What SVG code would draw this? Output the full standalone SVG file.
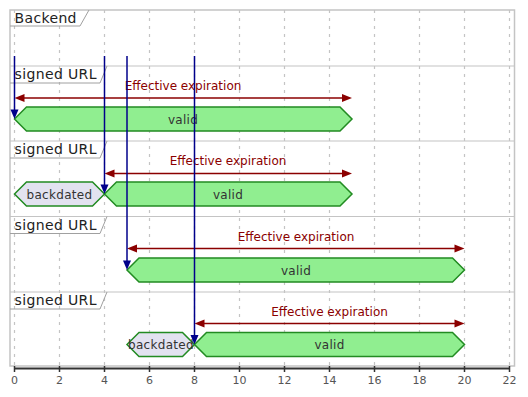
<svg xmlns="http://www.w3.org/2000/svg" width="528" height="397" viewBox="0 0 528 397">
<style>
  text { font-family: "DejaVu Sans", "Liberation Sans", sans-serif; }
  .frame { fill: none; stroke: #C4C4C4; stroke-width: 1.5; }
  .rowline { stroke: #C4C4C4; stroke-width: 1.2; }
  .grid { stroke: #C4C4C4; stroke-width: 1.2; stroke-dasharray: 3 5; }
  .tab { fill: none; stroke: #A0A0A0; stroke-width: 1; }
  .title { font-size: 14px; fill: #222; }
  .valid { fill: #90EE90; stroke: #228B22; stroke-width: 1.5; }
  .back { fill: #E2E2F0; stroke: #228B22; stroke-width: 1.5; }
  .stxt { font-size: 12px; fill: #333; text-anchor: middle; letter-spacing: 0.3px; }
  .cons { stroke: #8B0000; stroke-width: 1.5; }
  .conshead { fill: #8B0000; }
  .ctxt { font-size: 12px; fill: #8B0000; text-anchor: middle; }
  .msg { stroke: #00008B; stroke-width: 1.5; }
  .msghead { fill: #00008B; }
  .axis { stroke: #333; stroke-width: 2; }
  .tick { stroke: #333; stroke-width: 1.5; }
  .tlbl { font-size: 11px; fill: #555; text-anchor: middle; }
</style>

<g id="frame">
  <rect class="frame" x="10" y="10" width="504.5" height="356"/>
  <g class="grid">
    <line x1="14.5" y1="10" x2="14.5" y2="366"/>
    <line x1="59.5" y1="10" x2="59.5" y2="366"/>
    <line x1="104.5" y1="10" x2="104.5" y2="366"/>
    <line x1="149.5" y1="10" x2="149.5" y2="366"/>
    <line x1="194.5" y1="10" x2="194.5" y2="366"/>
    <line x1="239.5" y1="10" x2="239.5" y2="366"/>
    <line x1="284.5" y1="10" x2="284.5" y2="366"/>
    <line x1="329.5" y1="10" x2="329.5" y2="366"/>
    <line x1="374.5" y1="10" x2="374.5" y2="366"/>
    <line x1="419.5" y1="10" x2="419.5" y2="366"/>
    <line x1="464.5" y1="10" x2="464.5" y2="366"/>
    <line x1="509.5" y1="10" x2="509.5" y2="366"/>
  </g>
  <line class="rowline" x1="10" y1="66" x2="514.5" y2="66"/>
  <line class="rowline" x1="10" y1="141" x2="514.5" y2="141"/>
  <line class="rowline" x1="10" y1="216.5" x2="514.5" y2="216.5"/>
  <line class="rowline" x1="10" y1="292" x2="514.5" y2="292"/>
</g>

<g id="backend">
  <path class="tab" d="M10,26 H80 L89,10"/>
  <text class="title" x="14.5" y="23" textLength="62">Backend</text>
</g>

<g id="url1">
  <path class="tab" d="M10,83 H100 L107,66"/>
  <text class="title" x="14.5" y="79" textLength="82">signed URL</text>
  <polygon class="valid" points="14.5,119 26.5,107 340,107 352,119 340,131 26.5,131"/>
  <text class="stxt" x="183" y="123.5">valid</text>
</g>

<g id="url2">
  <path class="tab" d="M10,158 H100 L107,141"/>
  <text class="title" x="14.5" y="154" textLength="82">signed URL</text>
  <polygon class="back" points="14.5,194 26.5,182 92.5,182 104.5,194 92.5,206 26.5,206"/>
  <text class="stxt" x="59.5" y="198.5">backdated</text>
  <polygon class="valid" points="104.5,194 116.5,182 340,182 352,194 340,206 116.5,206"/>
  <text class="stxt" x="228" y="198.5">valid</text>
</g>

<g id="url3">
  <path class="tab" d="M10,233.5 H100 L107,216.5"/>
  <text class="title" x="14.5" y="229.5" textLength="82">signed URL</text>
  <polygon class="valid" points="127,270 139,258 452.5,258 464.5,270 452.5,282 139,282"/>
  <text class="stxt" x="296" y="274.5">valid</text>
</g>

<g id="url4">
  <path class="tab" d="M10,309 H100 L107,292"/>
  <text class="title" x="14.5" y="305" textLength="82">signed URL</text>
  <polygon class="back" points="127,344.5 139,332.5 182.5,332.5 194.5,344.5 182.5,356.5 139,356.5"/>
  <text class="stxt" x="161" y="349">backdated</text>
  <polygon class="valid" points="194.5,344.5 206.5,332.5 452.5,332.5 464.5,344.5 452.5,356.5 206.5,356.5"/>
  <text class="stxt" x="329.5" y="349">valid</text>
</g>

<g id="connectors">
  <line class="cons" x1="22" y1="98" x2="345" y2="98"/>
  <polygon class="conshead" points="14.5,98 24.5,94 24.5,102"/>
  <polygon class="conshead" points="352,98 342,94 342,102"/>
  <text class="ctxt" x="183" y="90">Effective expiration</text>

  <line class="cons" x1="112" y1="173.5" x2="345" y2="173.5"/>
  <polygon class="conshead" points="104.5,173.5 114.5,169.5 114.5,177.5"/>
  <polygon class="conshead" points="352,173.5 342,169.5 342,177.5"/>
  <text class="ctxt" x="228" y="165">Effective expiration</text>

  <line class="cons" x1="134" y1="248.5" x2="457" y2="248.5"/>
  <polygon class="conshead" points="127,248.5 137,244.5 137,252.5"/>
  <polygon class="conshead" points="464.5,248.5 454.5,244.5 454.5,252.5"/>
  <text class="ctxt" x="296" y="240.5">Effective expiration</text>

  <line class="cons" x1="202" y1="323.5" x2="457" y2="323.5"/>
  <polygon class="conshead" points="194.5,323.5 204.5,319.5 204.5,327.5"/>
  <polygon class="conshead" points="464.5,323.5 454.5,319.5 454.5,327.5"/>
  <text class="ctxt" x="329.5" y="315.5">Effective expiration</text>

  <line class="msg" x1="14.5" y1="56" x2="14.5" y2="111"/>
  <polygon class="msghead" points="14.5,119 10.5,109.5 18.5,109.5"/>
  <line class="msg" x1="104.5" y1="56" x2="104.5" y2="186"/>
  <polygon class="msghead" points="104.5,194 100.5,184.5 108.5,184.5"/>
  <line class="msg" x1="127" y1="56" x2="127" y2="262"/>
  <polygon class="msghead" points="127,270 123,260.5 131,260.5"/>
  <line class="msg" x1="194.5" y1="56" x2="194.5" y2="336.5"/>
  <polygon class="msghead" points="194.5,344.5 190.5,335 198.5,335"/>
</g>

<g id="axis">
  <line class="axis" x1="14" y1="368.5" x2="510" y2="368.5"/>
  <g class="tick">
    <line x1="14.5" y1="366" x2="14.5" y2="372"/>
    <line x1="59.5" y1="366" x2="59.5" y2="372"/>
    <line x1="104.5" y1="366" x2="104.5" y2="372"/>
    <line x1="149.5" y1="366" x2="149.5" y2="372"/>
    <line x1="194.5" y1="366" x2="194.5" y2="372"/>
    <line x1="239.5" y1="366" x2="239.5" y2="372"/>
    <line x1="284.5" y1="366" x2="284.5" y2="372"/>
    <line x1="329.5" y1="366" x2="329.5" y2="372"/>
    <line x1="374.5" y1="366" x2="374.5" y2="372"/>
    <line x1="419.5" y1="366" x2="419.5" y2="372"/>
    <line x1="464.5" y1="366" x2="464.5" y2="372"/>
    <line x1="509.5" y1="366" x2="509.5" y2="372"/>
  </g>
  <text class="tlbl" x="14.5" y="384">0</text>
  <text class="tlbl" x="59.5" y="384">2</text>
  <text class="tlbl" x="104.5" y="384">4</text>
  <text class="tlbl" x="149.5" y="384">6</text>
  <text class="tlbl" x="194.5" y="384">8</text>
  <text class="tlbl" x="239.5" y="384">10</text>
  <text class="tlbl" x="284.5" y="384">12</text>
  <text class="tlbl" x="329.5" y="384">14</text>
  <text class="tlbl" x="374.5" y="384">16</text>
  <text class="tlbl" x="419.5" y="384">18</text>
  <text class="tlbl" x="464.5" y="384">20</text>
  <text class="tlbl" x="509.5" y="384">22</text>
</g>
</svg>
